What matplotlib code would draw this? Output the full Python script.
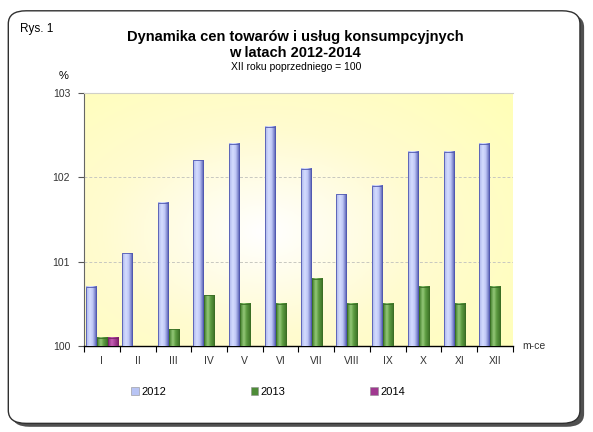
import matplotlib.pyplot as plt
import numpy as np
from matplotlib.patches import FancyBboxPatch, Rectangle
from matplotlib.colors import LinearSegmentedColormap

plt.rcParams['font.family'] = ['Liberation Sans', 'DejaVu Sans']

# data
months = ['I', 'II', 'III', 'IV', 'V', 'VI', 'VII', 'VIII', 'IX', 'X', 'XI', 'XII']
y2012 = [100.7, 101.1, 101.7, 102.2, 102.4, 102.6, 102.1, 101.8, 101.9, 102.3, 102.3, 102.4]
y2013 = [100.1, 100.0, 100.2, 100.6, 100.5, 100.5, 100.8, 100.5, 100.5, 100.7, 100.5, 100.7]
y2014 = [100.1]
years = ['2012', '2013', '2014']

# bar shading: left, middle, right
shades = {
    '2012': ['#aab4ea', '#d4dcff', '#c0c8f6', '#5058b0'],
    '2013': ['#3e7a28', '#94c878', '#5c9a40', '#3a6e24'],
    '2014': ['#8a2a7a', '#c460b4', '#a84098', '#7a2068'],
}
legend_col = {'2012': '#b8c4f4', '2013': '#4e8c38', '2014': '#a03890'}

fig = plt.figure(figsize=(5.93, 4.32), dpi=100)

# rounded frame with shadow
fig.patches.append(FancyBboxPatch((0.020, 0.012), 0.965, 0.955,
                                  boxstyle='round,pad=0,rounding_size=0.03',
                                  transform=fig.transFigure, facecolor='#505050',
                                  edgecolor='none', zorder=0))
fig.patches.append(FancyBboxPatch((0.014, 0.020), 0.964, 0.955,
                                  boxstyle='round,pad=0,rounding_size=0.03',
                                  transform=fig.transFigure, facecolor='white',
                                  edgecolor='#303030', linewidth=1.0, zorder=1))

ax = fig.add_axes([0.1417, 0.199, 0.7233, 0.586])
ax.set_zorder(2)

# plot area background: pale yellow with a white glow
gx, gy = np.meshgrid(np.linspace(0, 1, 200), np.linspace(0, 1, 200))
r = np.sqrt(((gx - 0.42) / 0.75) ** 2 + ((gy - 0.45) / 0.8) ** 2)
r = np.clip(r, 0, 1)
bg_cmap = LinearSegmentedColormap.from_list('bg', ['#ffffff', '#fffbd0', '#ffffb8'])
ax.imshow(r, cmap=bg_cmap, extent=[0, 1, 0, 1], transform=ax.transAxes,
          aspect='auto', zorder=0, origin='lower')

x = np.arange(len(months))
width = 0.28
series = [y2012, y2013, y2014]
grad = np.linspace(0, 1, 40).reshape(1, -1)
for k, (name, vals) in enumerate(zip(years, series)):
    cmap = LinearSegmentedColormap.from_list(name, list(zip([0, 0.35, 0.62, 1.0], shades[name])))
    for i, v in enumerate(vals):
        if v <= 100:
            continue
        x0 = x[i] - 0.44 + k * (width + 0.03)
        ax.imshow(grad, cmap=cmap, extent=[x0, x0 + width, 100, v],
                  aspect='auto', zorder=3)
        ax.add_patch(Rectangle((x0, 100), width, v - 100, facecolor='none',
                               edgecolor=shades[name][3], linewidth=0.6, zorder=4))

ax.set_xlim(-0.5, 11.5)
ax.set_ylim(100, 103)
ax.set_aspect('auto')

ax.set_yticks([100, 101, 102, 103])
ax.set_yticklabels(['100', '101', '102', '103'])
ax.set_xticks(np.arange(-0.5, 12, 1))
ax.set_xticklabels([])
ax.set_xticks(x, minor=True)
ax.set_xticklabels(months, minor=True)
ax.tick_params(axis='x', which='major', direction='out', length=4, color='black')
ax.tick_params(axis='x', which='minor', length=0, pad=7, labelsize=7.5, labelcolor='#333333')
ax.tick_params(axis='y', direction='out', length=4, color='#555555', labelsize=7.5,
               labelcolor='#333333', pad=6)

for yv in [101, 102]:
    ax.axhline(yv, color='#c8c8c0', linestyle=(0, (3, 2)), linewidth=0.7, zorder=1)

ax.spines['top'].set_color('#d0d0c8')
ax.spines['top'].set_linewidth(0.8)
ax.spines['right'].set_visible(False)
ax.spines['left'].set_color('#666666')
ax.spines['bottom'].set_color('black')
ax.spines['bottom'].set_linewidth(1.0)

# texts
fig.text(20 / 593, 1 - 29 / 432, 'Rys. 1', fontsize=8.5, va='center', ha='left')
fig.text(295 / 593, 1 - 45 / 432, 'Dynamika cen towarów i usług konsumpcyjnych\nw latach 2012-2014',
         fontsize=10.5, fontweight='bold', ha='center', va='center', linespacing=1.15)
fig.text(296 / 593, 1 - 67 / 432, 'XII roku poprzedniego = 100', fontsize=7.5,
         ha='center', va='center')
fig.text(64 / 593, 1 - 76 / 432, '%', fontsize=8, ha='center', va='center')
fig.text(522 / 593, 1 - 346 / 432, 'm-ce', fontsize=7.5, ha='left', va='center',
         color='#333333')

handles = [Rectangle((0, 0), 1, 1, facecolor=legend_col[n], edgecolor='#909090', linewidth=0.4)
           for n in years]
fig.legend(handles, years, loc='center', bbox_to_anchor=(268 / 593, 1 - 392 / 432),
           ncol=3, frameon=False, fontsize=8, handlelength=0.7, handleheight=0.7,
           handletextpad=0.2, columnspacing=7.6)

fig.savefig('out.png', dpi=100)
